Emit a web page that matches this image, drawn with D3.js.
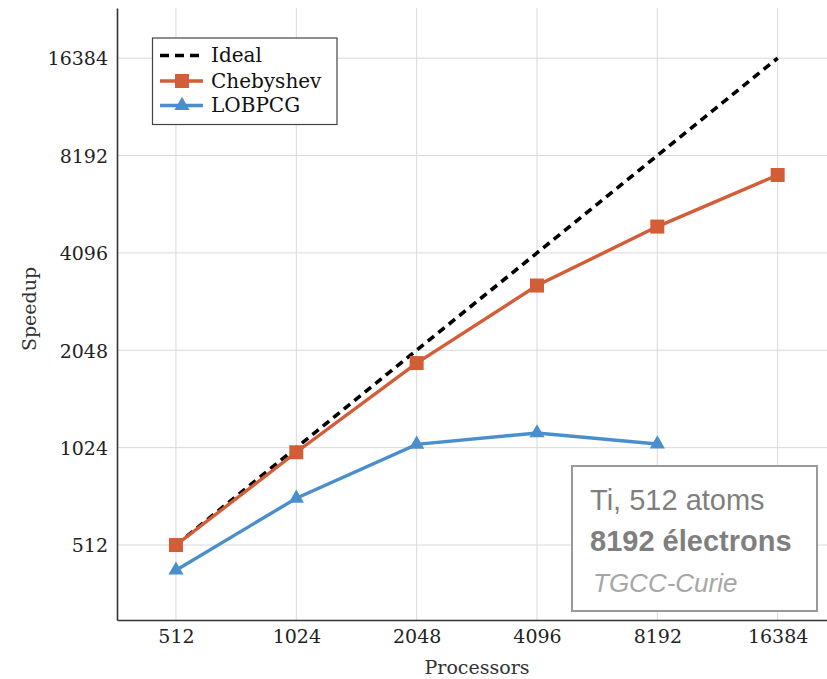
<!DOCTYPE html>
<html><head><meta charset="utf-8">
<script src="https://cdn.jsdelivr.net/npm/d3@7"></script>
<style>body{margin:0;background:#fff}svg{display:block}</style>
</head><body><div id="c"></div>
<script>
const processors = [512, 1024, 2048, 4096, 8192, 16384];
const idealValues = [512, 1024, 2048, 4096, 8192, 16384];
const chebyshevValues = [512, 991, 1870, 3247, 4940, 7130];
const lobpcgProcs = [512, 1024, 2048, 4096, 8192];
const lobpcgValues = [428, 714, 1048, 1137, 1051];
const xTicks = [512, 1024, 2048, 4096, 8192, 16384];
const yTicks = [512, 1024, 2048, 4096, 8192, 16384];
const seriesNames = ["Ideal", "Chebyshev", "LOBPCG"];

(function () {
const W = 827, H = 679;
const svg = d3.select("#c").append("svg").attr("width", W).attr("height", H);
const pL = 117, pR = 827, pT = 8, pB = 620;

const x = d3.scaleLog().base(2).domain([Math.pow(2, 8.51), Math.pow(2, 14.41)]).range([pL, pR]);
const y = d3.scaleLog().base(2).domain([Math.pow(2, 8.23), Math.pow(2, 14.515)]).range([pB, pT]);

const serif = "'DejaVu Serif',serif";
const sans = "'Liberation Sans',Arial,sans-serif";

// grid
const g = svg.append("g");
g.selectAll(".vg").data(xTicks).enter().append("line")
  .attr("x1", d => x(d)).attr("x2", d => x(d)).attr("y1", pT).attr("y2", pB)
  .attr("stroke", "#d9d9d9").attr("stroke-width", 1);
g.selectAll(".hg").data(yTicks).enter().append("line")
  .attr("y1", d => y(d)).attr("y2", d => y(d)).attr("x1", pL).attr("x2", pR)
  .attr("stroke", "#d9d9d9").attr("stroke-width", 1);

// axes
const xAxis = d3.axisBottom(x).tickValues(xTicks).tickFormat(d3.format("d")).tickSize(0).tickPadding(10);
const yAxis = d3.axisLeft(y).tickValues(yTicks).tickFormat(d3.format("d")).tickSize(0).tickPadding(9);
const xa = svg.append("g").attr("transform", `translate(0,${pB})`).call(xAxis);
const ya = svg.append("g").attr("transform", `translate(${pL},0)`).call(yAxis);
[xa, ya].forEach(a => {
  a.select(".domain").attr("stroke", "#333").attr("stroke-width", 1.6);
  a.selectAll("text").attr("font-family", serif).attr("font-size", 19).attr("fill", "#222");
});
ya.selectAll("text").attr("dy", "0.36em");

svg.append("text").attr("x", 477).attr("y", 674)
  .attr("text-anchor", "middle").attr("font-family", serif).attr("font-size", 19).attr("fill", "#333").text("Processors");
svg.append("text").attr("transform", `translate(36,309) rotate(-90)`)
  .attr("text-anchor", "middle").attr("font-family", serif).attr("font-size", 19).attr("fill", "#333").text("Speedup");

const cheCol = "#d35d36", lobCol = "#4a8fcc";
const line = d3.line().x(d => x(d[0])).y(d => y(d[1]));

// ideal
svg.append("path").datum(processors.map((p, i) => [p, idealValues[i]]))
  .attr("d", line).attr("fill", "none").attr("stroke", "#000").attr("stroke-width", 3.6)
  .attr("stroke-dasharray", "8,5.5");

// lobpcg
const lobData = lobpcgProcs.map((p, i) => [p, lobpcgValues[i]]);
svg.append("path").datum(lobData).attr("d", line).attr("fill", "none").attr("stroke", lobCol).attr("stroke-width", 3.4);
const tri = d3.symbol().type(d3.symbolTriangle).size(100);
svg.selectAll(".tri").data(lobData).enter().append("path")
  .attr("d", tri).attr("transform", d => `translate(${x(d[0])},${y(d[1])})`).attr("fill", lobCol);

// chebyshev
const cheData = processors.map((p, i) => [p, chebyshevValues[i]]);
svg.append("path").datum(cheData).attr("d", line).attr("fill", "none").attr("stroke", cheCol).attr("stroke-width", 3.4);
svg.selectAll(".sq").data(cheData).enter().append("rect")
  .attr("x", d => x(d[0]) - 7).attr("y", d => y(d[1]) - 7).attr("width", 14).attr("height", 14).attr("fill", cheCol);

// legend
const lg = svg.append("g");
lg.append("rect").attr("x", 152.5).attr("y", 38).attr("width", 184.5).attr("height", 86.5)
  .attr("fill", "#fff").attr("stroke", "#444").attr("stroke-width", 1.2);
const rows = [55.5, 81, 105.5];
seriesNames.forEach((n, i) => {
  const yy = rows[i];
  const l = lg.append("line").attr("x1", 160).attr("x2", 203).attr("y1", yy).attr("y2", yy).attr("stroke-width", 3.6);
  if (i === 0) l.attr("stroke", "#000").attr("stroke-dasharray", "9,6");
  if (i === 1) {
    l.attr("stroke", cheCol);
    lg.append("rect").attr("x", 175).attr("y", yy - 7).attr("width", 14).attr("height", 14).attr("fill", cheCol);
  }
  if (i === 2) {
    l.attr("stroke", lobCol);
    lg.append("path").attr("d", tri).attr("transform", `translate(182,${yy})`).attr("fill", lobCol);
  }
  lg.append("text").attr("x", 211).attr("y", yy + 6.5).attr("font-family", serif).attr("font-size", 20)
    .attr("fill", "#111").text(n);
});

// annotation box
const ab = svg.append("g");
ab.append("rect").attr("x", 572).attr("y", 466).attr("width", 245).attr("height", 145)
  .attr("fill", "#fff").attr("stroke", "#999").attr("stroke-width", 2);
ab.append("text").attr("x", 590).attr("y", 510).attr("font-family", sans).attr("font-size", 29).attr("fill", "#7f7f7f").text("Ti, 512 atoms");
ab.append("text").attr("x", 590).attr("y", 551).attr("font-family", sans).attr("font-size", 29).attr("font-weight", "bold").attr("fill", "#7f7f7f").text("8192 électrons");
ab.append("text").attr("x", 593).attr("y", 592).attr("font-family", sans).attr("font-size", 26).attr("font-style", "italic").attr("fill", "#a6a6a6").text("TGCC-Curie");
})();
</script>
</body></html>
